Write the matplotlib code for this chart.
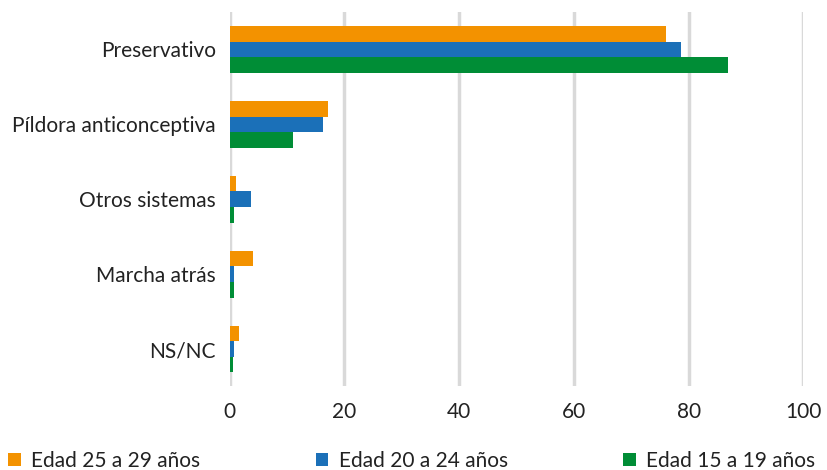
import numpy as np
import matplotlib.pyplot as plt

# datos
categorias = ['Preservativo', 'Píldora anticonceptiva', 'Otros sistemas', 'Marcha atrás', 'NS/NC']
edad_25_29 = [76.0, 17.1, 1.1, 4.1, 1.7]
edad_20_24 = [78.6, 16.3, 3.7, 0.8, 0.8]
edad_15_19 = [86.8, 11.0, 0.8, 0.8, 0.6]
series = ['Edad 25 a 29 años', 'Edad 20 a 24 años', 'Edad 15 a 19 años']
colores = ['#F39200', '#1B70B8', '#008D36']

plt.rcParams['font.family'] = ['Lato', 'DejaVu Sans']

fig = plt.figure(figsize=(8.28, 4.70), dpi=100)
ax = fig.add_axes([0.2772, 0.1777, 0.6932, 0.7968])

y = np.arange(len(categorias))
h = 0.208
for i, (vals, nombre, c) in enumerate(zip([edad_25_29, edad_20_24, edad_15_19], series, colores)):
    ax.barh(y + (i - 1) * h, vals, height=h, color=c, label=nombre, zorder=3)

ax.set_ylim(len(categorias) - 0.5, -0.5)
ax.set_xlim(0, 100)
ax.set_xticks(np.arange(0, 101, 20))
ax.set_yticks(y)
ax.set_yticklabels(categorias)
ax.grid(axis='x', color='#d9d9d9', linewidth=2.5, zorder=0)
for s in ax.spines.values():
    s.set_visible(False)
ax.tick_params(length=0, labelsize=15, colors='#222222')
ax.tick_params(axis='y', pad=10)
ax.tick_params(axis='x', pad=11)

fig.legend(loc='lower left', bbox_to_anchor=(0.0, -0.02, 0.995, 0.05), mode='expand',
           borderaxespad=0, ncol=3, frameon=False, fontsize=15, handlelength=0.6,
           handleheight=0.6, handletextpad=0.5, labelcolor='#222222')

fig.savefig('out.png', dpi=100)
